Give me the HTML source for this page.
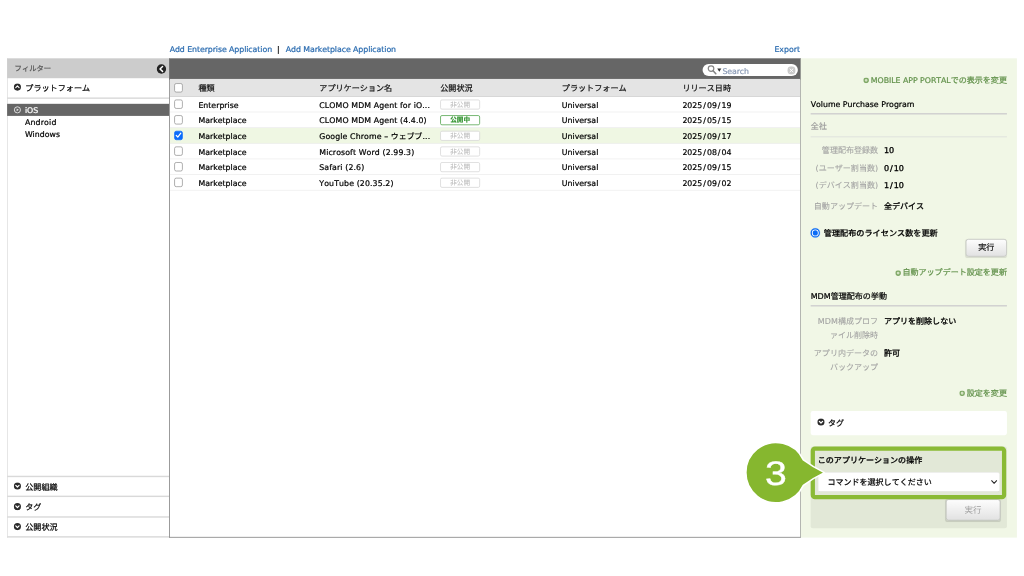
<!DOCTYPE html>
<html>
<head>
<meta charset="utf-8">
<title>Applications</title>
<style>
html,body{margin:0;padding:0;background:#fff;}
body{width:1024px;height:576px;overflow:hidden;position:relative;}
#stage{position:absolute;left:0;top:0;width:1440px;height:810px;transform:scale(0.711111);transform-origin:0 0;
  font-family:"DejaVu Sans","Liberation Sans","Noto Sans CJK JP",sans-serif;font-size:11px;color:#000;-webkit-text-stroke:0.3px;font-kerning:none;text-rendering:geometricPrecision;}
#stage *{box-sizing:border-box;}
.abs{position:absolute;white-space:nowrap;}
.t{position:absolute;white-space:nowrap;line-height:16px;height:16px;margin-top:-5.9px;}
a.lnk{color:#2b6cb0;text-decoration:none;}
/* left panel */
#left{position:absolute;left:10px;top:82px;width:228px;height:674px;}
#lbord{position:absolute;left:0;top:0;width:1px;height:674px;background:#dcdcdc;}
#lhead{position:absolute;left:0;top:0;width:228px;height:28px;background:#cccccc;}
.sep{position:absolute;left:0;width:228px;height:2px;background:#d9d9d9;}
/* table */
#tbl{position:absolute;left:238px;top:82px;width:888px;height:674px;border:1px solid #727272;border-top:none;background:#fff;}
#bar{position:absolute;left:238px;top:82px;width:888px;height:29.5px;background:#666666;}
#thead{position:absolute;left:239px;top:111px;width:886px;height:25px;background:#e4e4e4;border-bottom:1px solid #cfcfcf;}
.row{position:absolute;left:239px;width:886px;height:22px;border-bottom:1px solid #ececec;}
.row.sel{background:#eff7e3;}
.row.up .c{margin-top:-6.4px;}
.row.up .c0{margin-top:-6.3px;}
.c{position:absolute;top:50%;white-space:nowrap;line-height:16px;margin-top:-5.9px;}
.c0{left:5.8px;margin-top:-6.3px;width:12.6px;height:12.6px;border:1.4px solid #8e8e8e;border-radius:2.8px;background:#fff;}
.c0.on{background:#0b6cfb;border-color:#0b6cfb;}
#thead .c0{margin-top:-5.6px;}
.c1{left:40px;}
.c2{left:210px;letter-spacing:0.15px;}
.c3{left:380px;}
.c4{left:551px;}
.c5{left:720.6px;}
.hd{font-weight:normal;color:#111;font-size:11.4px;letter-spacing:0;margin-top:-6.9px;}
.dt{letter-spacing:0;}
.badge{position:absolute;left:380px;top:50%;margin-top:-7px;width:56px;height:14px;border:1px solid #d3d3d3;border-radius:2.5px;background:#fff;
  color:#bfbfbf;font-size:9.3px;line-height:13.2px;text-align:center;-webkit-text-stroke:0.15px;}
.badge.on{border:1.7px solid #419b3b;color:#2f922c;font-weight:bold;line-height:11.2px;-webkit-text-stroke:0.2px;}
/* right panel */
#right{position:absolute;left:1126px;top:82px;width:304px;height:674px;background:#f1f7e6;font-size:11.3px;}
.glink{color:#64934d;}
.lab{position:absolute;white-space:nowrap;line-height:16px;margin-top:-5.9px;color:#a2a2a2;text-align:right;right:195.2px;font-size:11.3px;-webkit-text-stroke:0.1px;}
.val{position:absolute;white-space:nowrap;line-height:16px;margin-top:-5.9px;left:117px;color:#000;-webkit-text-stroke:0.45px;}
.sl{margin:0 1.4px;}
.rule{position:absolute;left:14px;width:276px;background:#cfcfcf;}
.btn{position:absolute;border:1px solid #b4b4b4;border-radius:4px;background:linear-gradient(#fdfdfd,#e2e2e2);text-align:center;color:#111;}
</style>
</head>
<body>
<div id="stage">

<!-- top links -->
<div class="t" style="left:238.6px;top:67.9px;"><a class="lnk" style="letter-spacing:-0.1px;">Add Enterprise Application</a><span style="color:#000;margin:0 8.6px 0 7px;">|</span><a class="lnk" style="letter-spacing:-0.1px;">Add Marketplace Application</a></div>
<div class="t" style="right:315px;top:67.9px;"><a class="lnk">Export</a></div>

<!-- left panel -->
<div id="left">
  <div id="lbord"></div>
  <div id="lhead">
    <div class="t" style="left:10.5px;top:12.9px;font-size:10.3px;color:#555;">フィルター</div>
    <svg class="abs" style="left:210px;top:8px;" width="14" height="14" viewBox="0 0 14 14"><circle cx="7" cy="7" r="6.6" fill="#222"/><path d="M8.6 3.6 L5 7 L8.6 10.4" fill="none" stroke="#fff" stroke-width="2.1" stroke-linecap="round" stroke-linejoin="round"/></svg>
  </div>
  <svg class="abs" style="left:9.25px;top:35.4px;" width="11" height="11" viewBox="0 0 11 11"><circle cx="5.5" cy="5.5" r="5" fill="#2b2b2b"/><path d="M3.2 6.3 L5.5 3.9 L7.8 6.3" fill="none" stroke="#fff" stroke-width="1.6" stroke-linecap="round" stroke-linejoin="round"/></svg>
  <div class="t" style="left:25.6px;top:40.3px;font-size:11.4px;">プラットフォーム</div>
  <div class="sep" style="top:55px;"></div>
  <div class="abs" style="left:0;top:64px;width:228px;height:17px;background:#666;"></div>
  <svg class="abs" style="left:9.1px;top:66.6px;" width="11" height="11" viewBox="0 0 11 11"><circle cx="5.5" cy="5.5" r="4.3" fill="none" stroke="#e6e6e6" stroke-width="1.3"/><path d="M4.4 3.6 L7.5 5.5 L4.4 7.4 Z" fill="#e6e6e6"/></svg>
  <div class="t" style="left:25px;top:72px;color:#fff;">iOS</div>
  <div class="t" style="left:25px;top:89.1px;letter-spacing:0.25px;">Android</div>
  <div class="t" style="left:25px;top:105.3px;">Windows</div>

  <div class="sep" style="top:586.9px;"></div>
  <div class="sep" style="top:615.3px;"></div>
  <div class="sep" style="top:643.9px;"></div>
  <div class="sep" style="top:672px;"></div>
  <svg class="abs dn" style="left:9.25px;top:595.7px;" width="11" height="11" viewBox="0 0 11 11"><circle cx="5.5" cy="5.5" r="5" fill="#2b2b2b"/><path d="M3.2 4.5 L5.5 6.9 L7.8 4.5" fill="none" stroke="#fff" stroke-width="1.7" stroke-linecap="round" stroke-linejoin="round"/></svg>
  <div class="t" style="left:25.5px;top:601px;font-size:11.4px;">公開組織</div>
  <svg class="abs dn" style="left:9.25px;top:624.6px;" width="11" height="11" viewBox="0 0 11 11"><circle cx="5.5" cy="5.5" r="5" fill="#2b2b2b"/><path d="M3.2 4.5 L5.5 6.9 L7.8 4.5" fill="none" stroke="#fff" stroke-width="1.7" stroke-linecap="round" stroke-linejoin="round"/></svg>
  <div class="t" style="left:25.5px;top:628.8px;font-size:11.4px;">タグ</div>
  <svg class="abs dn" style="left:9.25px;top:652.6px;" width="11" height="11" viewBox="0 0 11 11"><circle cx="5.5" cy="5.5" r="5" fill="#2b2b2b"/><path d="M3.2 4.5 L5.5 6.9 L7.8 4.5" fill="none" stroke="#fff" stroke-width="1.7" stroke-linecap="round" stroke-linejoin="round"/></svg>
  <div class="t" style="left:25.5px;top:658px;font-size:11.4px;">公開状況</div>
</div>

<!-- table -->
<div id="tbl"></div>
<div id="bar">
  <div class="abs" style="left:750px;top:8px;width:134px;height:17px;border-radius:9px;background:#fff;"></div>
  <svg class="abs" style="left:756px;top:9px;" width="26" height="15" viewBox="0 0 26 15"><circle cx="5.9" cy="5.4" r="3.9" fill="none" stroke="#858585" stroke-width="1.7"/><path d="M8.8 8.5 L12.6 12.6" stroke="#858585" stroke-width="2.2" stroke-linecap="round"/><path d="M14.6 5.4 L20.4 5.4 L17.5 10 Z" fill="#333"/></svg>
  <div class="t" style="left:778px;top:16.5px;color:#8a9ab5;letter-spacing:-0.15px;">Search</div>
  <svg class="abs" style="left:868.6px;top:10.5px;" width="12" height="12" viewBox="0 0 12 12"><circle cx="6" cy="6" r="5.7" fill="#cacaca"/><path d="M3.9 3.9 L8.1 8.1 M8.1 3.9 L3.9 8.1" stroke="#fff" stroke-width="1.3" stroke-linecap="round"/></svg>
</div>
<div id="thead">
  <div class="c c0"></div>
  <div class="c c1 hd">種類</div>
  <div class="c c2 hd">アプリケーション名</div>
  <div class="c c3 hd">公開状況</div>
  <div class="c c4 hd">プラットフォーム</div>
  <div class="c c5 hd">リリース日時</div>
</div>
<div class="row" style="top:136px;"><div class="c c0"></div><div class="c c1">Enterprise</div><div class="c c2">CLOMO MDM Agent for iO...</div><div class="badge">非公開</div><div class="c c4">Universal</div><div class="c c5 dt">2025<span class="sl">/</span>09<span class="sl">/</span>19</div></div>
<div class="row up" style="top:158px;"><div class="c c0"></div><div class="c c1">Marketplace</div><div class="c c2">CLOMO MDM Agent (4.4.0)</div><div class="badge on">公開中</div><div class="c c4">Universal</div><div class="c c5 dt">2025<span class="sl">/</span>05<span class="sl">/</span>15</div></div>
<div class="row sel" style="top:180px;"><div class="c c0 on"><svg style="position:absolute;left:-1.1px;top:-1.1px;" width="12" height="12" viewBox="0 0 12 12"><path d="M2.8 6.3 L5 8.7 L9.3 3.3" fill="none" stroke="#fff" stroke-width="1.7" stroke-linecap="round" stroke-linejoin="round"/></svg></div><div class="c c1">Marketplace</div><div class="c c2">Google Chrome – ウェブブ...</div><div class="badge">非公開</div><div class="c c4">Universal</div><div class="c c5 dt">2025<span class="sl">/</span>09<span class="sl">/</span>17</div></div>
<div class="row" style="top:202px;"><div class="c c0"></div><div class="c c1">Marketplace</div><div class="c c2">Microsoft Word (2.99.3)</div><div class="badge">非公開</div><div class="c c4">Universal</div><div class="c c5 dt">2025<span class="sl">/</span>08<span class="sl">/</span>04</div></div>
<div class="row up" style="top:224px;"><div class="c c0"></div><div class="c c1">Marketplace</div><div class="c c2">Safari (2.6)</div><div class="badge">非公開</div><div class="c c4">Universal</div><div class="c c5 dt">2025<span class="sl">/</span>09<span class="sl">/</span>15</div></div>
<div class="row" style="top:246px;"><div class="c c0"></div><div class="c c1">Marketplace</div><div class="c c2">YouTube (20.35.2)</div><div class="badge">非公開</div><div class="c c4">Universal</div><div class="c c5 dt">2025<span class="sl">/</span>09<span class="sl">/</span>02</div></div>

<!-- right panel -->
<div id="right">
  <div class="t glink" style="right:14px;top:29.8px;"><svg style="vertical-align:-0.4px;margin-right:2.5px;" width="8" height="8" viewBox="0 0 8 8"><circle cx="4" cy="4" r="2.95" fill="#d3e2c2" stroke="#7fa866" stroke-width="2"/></svg><span style="letter-spacing:-0.05px;font-size:11px;">MOBILE APP PORTAL</span>での表示を変更</div>
  <div class="t" style="left:14px;top:63.6px;font-size:11px;">Volume Purchase Program</div>
  <div class="rule" style="top:77.4px;height:2px;"></div>
  <div class="t" style="left:14px;top:95px;color:#9a9a9a;">全社</div>
  <div class="rule" style="top:110.2px;height:1.2px;background:#d9d9d9;"></div>
  <div class="lab" style="top:128px;">管理配布登録数</div><div class="val" style="top:128.1px;">10</div>
  <div class="lab" style="top:152.4px;">(ユーザー割当数)</div><div class="val" style="top:153.5px;">0<span class="sl">/</span>10</div>
  <div class="lab" style="top:177.3px;">(デバイス割当数)</div><div class="val" style="top:177.3px;">1<span class="sl">/</span>10</div>
  <div class="lab" style="top:207px;">自動アップデート</div><div class="val" style="top:207.3px;">全デバイス</div>
  <svg class="abs" style="left:12.5px;top:238px;" width="15" height="15" viewBox="0 0 15 15"><circle cx="7.5" cy="7.5" r="5.7" fill="#fff" stroke="#0b6cf5" stroke-width="1.7"/><circle cx="7.5" cy="7.5" r="6.8" fill="none" stroke="#0b6cf5" stroke-opacity="0.25" stroke-width="1"/><circle cx="7.5" cy="7.5" r="3.6" fill="#0b6cf5"/></svg>
  <div class="t" style="left:32.5px;top:243.8px;font-weight:500;font-size:11.45px;">管理配布のライセンス数を更新</div>
  <div class="btn" style="left:232px;top:254.4px;width:58px;height:24.4px;line-height:22.6px;border-color:#bcbcbc;box-shadow:0 1px 1px rgba(0,0,0,0.1);">実行</div>
  <div class="t glink" style="right:14px;top:300px;"><svg style="vertical-align:-0.4px;margin-right:2.5px;" width="8" height="8" viewBox="0 0 8 8"><circle cx="4" cy="4" r="2.95" fill="#d3e2c2" stroke="#7fa866" stroke-width="2"/></svg>自動アップデート設定を更新</div>
  <div class="t" style="left:14px;top:333.5px;">MDM管理配布の挙動</div>
  <div class="rule" style="top:347px;height:2px;"></div>
  <div class="lab" style="top:368.1px;">MDM構成プロフ</div><div class="val" style="top:368.3px;">アプリを削除しない</div>
  <div class="lab" style="top:388.1px;">ァイル削除時</div>
  <div class="lab" style="top:412.6px;">アプリ内データの</div><div class="val" style="top:414px;">許可</div>
  <div class="lab" style="top:433.1px;">バックアップ</div>
  <div class="t glink" style="right:14px;top:469.8px;"><svg style="vertical-align:-0.4px;margin-right:2.5px;" width="8" height="8" viewBox="0 0 8 8"><circle cx="4" cy="4" r="2.95" fill="#d3e2c2" stroke="#7fa866" stroke-width="2"/></svg>設定を変更</div>

  <div class="abs" style="left:14px;top:496px;width:276px;height:33.5px;background:#fff;border-radius:3px;"></div>
  <svg class="abs" style="left:22.6px;top:506.2px;" width="11" height="11" viewBox="0 0 11 11"><circle cx="5.5" cy="5.5" r="5" fill="#2b2b2b"/><path d="M3.2 4.5 L5.5 6.9 L7.8 4.5" fill="none" stroke="#fff" stroke-width="1.7" stroke-linecap="round" stroke-linejoin="round"/></svg>
  <div class="t" style="left:38.5px;top:511.9px;">タグ</div>

  <div class="abs" style="left:14px;top:546px;width:276px;height:114.5px;background:#e2e8d7;border-radius:3px;"></div>
  <div class="t" style="left:24px;top:564.3px;font-weight:500;">このアプリケーションの操作</div>
  <div class="abs" style="left:24px;top:582.3px;width:256px;height:28px;background:#fff;border-radius:3px;border:1px solid #ececec;border-bottom-color:#d6d9cf;"></div>
  <div class="t" style="left:37.5px;top:594.8px;">コマンドを選択してください</div>
  <svg class="abs" style="left:266.8px;top:592px;" width="10" height="8" viewBox="0 0 10 8"><path d="M1.5 2 L5 5.6 L8.5 2" fill="none" stroke="#222" stroke-width="1.5" stroke-linecap="round" stroke-linejoin="round"/></svg>
  <div class="btn" style="left:204px;top:619.8px;width:76.5px;height:30.7px;line-height:29.5px;color:#9e9e9e;font-size:12px;border-color:#b9b9b9;box-shadow:0 1px 1px rgba(0,0,0,0.12);-webkit-text-stroke:0;">実行</div>
</div>

<!-- annotation: highlight box + callout -->
<div class="abs" style="left:1140px;top:627.5px;width:274.5px;height:74px;border:6.6px solid #8aba35;border-radius:6px;"></div>
<svg class="abs" style="left:1040px;top:614px;" width="130" height="102" viewBox="1040 614 130 102">
  <path d="M1129.68 646.68 A42.4 42.4 0 1 0 1129.68 682.52 Q1144 672 1159.3 664.6 Q1144 657.2 1129.68 646.68 Z" fill="#86b72f" stroke="#fff" stroke-width="2.2" stroke-linejoin="round"/>
  <text x="1091" y="682" text-anchor="middle" font-family="'Liberation Sans',sans-serif" font-size="48" fill="#fff" stroke="#fff" stroke-width="0.5" transform="translate(1091 0) scale(1.15 1) translate(-1091 0)">3</text>
</svg>

</div>
</body>
</html>
